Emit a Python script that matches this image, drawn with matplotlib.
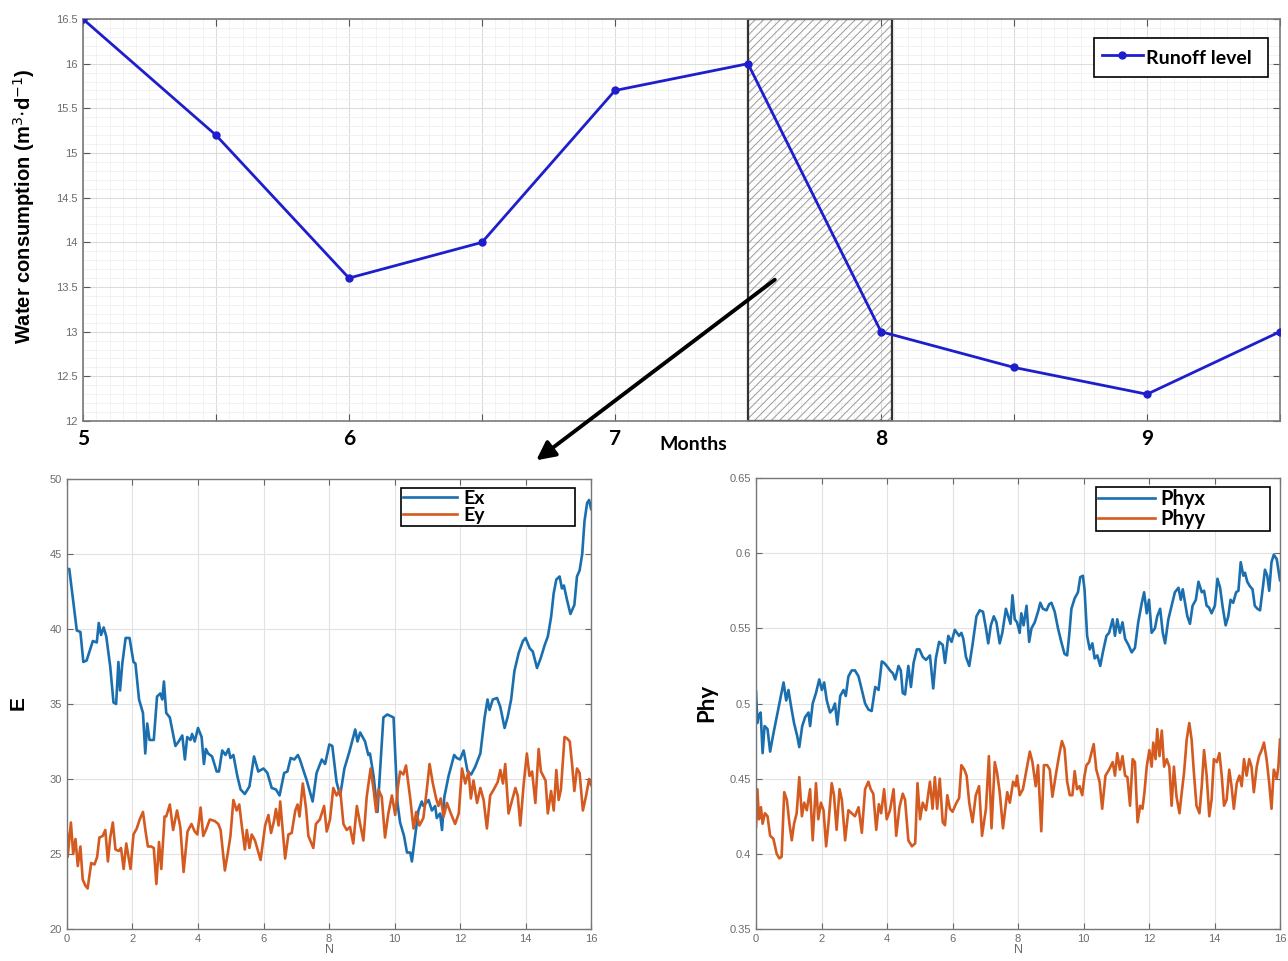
import numpy as np
import matplotlib
matplotlib.use("Agg")
import matplotlib.pyplot as plt
from matplotlib.ticker import MultipleLocator, FuncFormatter

# ---- data ----
months = [5, 5.5, 6, 6.5, 7, 7.5, 8, 8.5, 9, 9.5]
runoff = [16.5, 15.2, 13.6, 14.0, 15.7, 16.0, 13.0, 12.6, 12.3, 13.0]
span_start, span_end = 7.5, 8.04

ex_n = [0.00, 0.07, 0.30, 0.41, 0.50, 0.60, 0.79, 0.91, 0.97, 1.04, 1.12, 1.20, 1.32, 1.42, 1.50, 1.57, 1.62, 1.69,
        1.79, 1.91, 2.03, 2.09, 2.20, 2.32, 2.39, 2.45, 2.52, 2.65, 2.75, 2.85, 2.91, 2.96, 3.03, 3.14, 3.31, 3.41,
        3.52, 3.60, 3.67, 3.77, 3.82, 3.90, 4.00, 4.11, 4.18, 4.24, 4.31, 4.43, 4.57, 4.64, 4.74, 4.84, 4.93, 4.99,
        5.08, 5.20, 5.30, 5.43, 5.57, 5.71, 5.84, 6.00, 6.12, 6.25, 6.38, 6.49, 6.63, 6.73, 6.83, 6.94, 7.05, 7.11,
        7.32, 7.50, 7.62, 7.78, 7.88, 8.01, 8.10, 8.23, 8.34, 8.47, 8.62, 8.80, 8.87, 8.95, 9.10, 9.20, 9.25, 9.36,
        9.48, 9.56, 9.66, 9.78, 9.97, 10.09, 10.17, 10.29, 10.38, 10.48, 10.53, 10.63, 10.73, 10.83, 10.88, 11.04,
        11.14, 11.24, 11.29, 11.39, 11.45, 11.52, 11.65, 11.82, 11.90, 12.00, 12.11, 12.23, 12.34, 12.46, 12.62,
        12.75, 12.84, 12.90, 13.00, 13.13, 13.23, 13.36, 13.45, 13.56, 13.66, 13.79, 13.92, 14.00, 14.13, 14.22,
        14.35, 14.47, 14.58, 14.68, 14.78, 14.86, 14.94, 15.04, 15.11, 15.17, 15.27, 15.37, 15.49, 15.57, 15.65,
        15.73, 15.80, 15.88, 15.94, 16.00]
ex_v = [44.0, 44.0, 39.9, 39.8, 37.8, 37.9, 39.2, 39.1, 40.4, 39.6, 40.1, 39.5, 37.5, 35.1, 35.0, 37.8, 35.9, 37.7,
        39.4, 39.4, 37.8, 37.7, 35.3, 34.4, 31.7, 33.7, 32.6, 32.6, 35.5, 35.7, 35.3, 36.5, 34.4, 34.1, 32.2, 32.5,
        32.9, 31.3, 32.8, 32.6, 33.0, 32.5, 33.4, 32.8, 31.0, 32.0, 31.7, 31.5, 30.5, 30.5, 31.9, 31.6, 32.0, 31.4,
        31.6, 30.2, 29.3, 29.0, 29.5, 31.5, 30.5, 30.7, 30.4, 29.4, 29.3, 28.9, 30.4, 30.5, 31.4, 31.3, 31.6, 31.3,
        29.9, 28.5, 30.4, 31.3, 31.0, 32.3, 32.2, 29.8, 28.9, 30.7, 31.8, 33.3, 32.5, 33.1, 32.5, 31.6, 31.7, 30.2,
        27.8, 30.6, 34.1, 34.3, 34.1, 28.4, 27.1, 26.2, 25.1, 25.1, 24.5, 26.2, 27.9, 28.5, 28.2, 28.6,
        27.9, 28.2, 27.4, 27.7, 26.6, 28.8, 30.2, 31.6, 31.4, 31.3, 31.9, 30.5, 30.3, 30.8, 31.7,
        34.1, 35.3, 34.6, 35.3, 35.4, 34.8, 33.4, 34.1, 35.3, 37.2, 38.4, 39.2, 39.4, 38.7, 38.5,
        37.4, 38.1, 38.9, 39.5, 40.8, 42.4, 43.3, 43.5, 42.7, 42.9, 41.9, 41.0, 41.6, 43.5, 43.9,
        45.0, 47.2, 48.4, 48.6, 48.0]

ey_n = [0.00, 0.02, 0.12, 0.19, 0.26, 0.33, 0.41, 0.48, 0.56, 0.63, 0.74, 0.84, 0.92, 0.99, 1.09, 1.17, 1.25, 1.32,
        1.40, 1.48, 1.58, 1.65, 1.73, 1.81, 1.94, 2.03, 2.13, 2.22, 2.32, 2.40, 2.47, 2.57, 2.65, 2.73, 2.81, 2.88,
        2.98, 3.03, 3.14, 3.24, 3.36, 3.46, 3.56, 3.68, 3.80, 3.90, 3.98, 4.08, 4.16, 4.26, 4.36, 4.51, 4.62, 4.69,
        4.82, 4.92, 4.99, 5.08, 5.18, 5.26, 5.33, 5.43, 5.49, 5.57, 5.64, 5.74, 5.91, 6.05, 6.15, 6.23, 6.32, 6.38,
        6.46, 6.51, 6.66, 6.76, 6.86, 6.97, 7.04, 7.10, 7.20, 7.30, 7.37, 7.52, 7.60, 7.72, 7.85, 7.93, 8.03, 8.13,
        8.23, 8.34, 8.44, 8.54, 8.64, 8.74, 8.85, 8.95, 9.05, 9.15, 9.27, 9.36, 9.44, 9.51, 9.61, 9.71, 9.81, 9.92,
        10.02, 10.10, 10.17, 10.27, 10.35, 10.48, 10.58, 10.66, 10.76, 10.88, 10.97, 11.07, 11.17, 11.27, 11.34,
        11.41, 11.50, 11.60, 11.72, 11.85, 11.96, 12.06, 12.16, 12.26, 12.33, 12.41, 12.52, 12.62, 12.72, 12.82,
        12.92, 13.03, 13.15, 13.23, 13.31, 13.38, 13.48, 13.59, 13.69, 13.76, 13.84, 13.94, 14.04, 14.12, 14.20,
        14.30, 14.40, 14.47, 14.61, 14.68, 14.78, 14.86, 14.94, 15.01, 15.08, 15.19, 15.27, 15.35, 15.42, 15.49,
        15.57, 15.65, 15.75, 15.85, 15.94, 16.00]
ey_v = [26.4, 24.8, 27.1, 25.0, 26.0, 24.2, 25.5, 23.3, 22.9, 22.7, 24.4, 24.3, 24.8, 26.1, 26.2, 26.6, 24.5, 26.1,
        27.1, 25.3, 25.2, 25.4, 24.0, 25.7, 24.0, 26.3, 26.7, 27.3, 27.8, 26.5, 25.5, 25.5, 25.4, 23.0, 25.8, 24.0,
        27.5, 27.5, 28.3, 26.6, 27.9, 26.8, 23.8, 26.5, 27.0, 26.5, 26.3, 28.1, 26.2, 26.7, 27.3, 27.2, 27.0, 26.6,
        23.9, 25.2, 26.2, 28.6, 27.9, 28.3, 27.0, 25.3, 26.6, 25.4, 26.3, 25.9, 24.6, 26.9, 27.6, 26.4, 27.2, 28.0,
        26.9, 28.5, 24.7, 26.3, 26.4, 27.9, 28.3, 27.5, 29.7, 28.0, 26.2, 25.4, 27.0, 27.3, 28.2, 26.5, 27.3, 29.4,
        28.9, 29.3, 27.0, 26.6, 26.8, 25.7, 28.2, 27.0, 25.9, 28.8, 30.7, 29.3, 27.8, 29.3, 28.8, 26.1, 27.7, 28.9,
        27.6, 29.4, 30.5, 30.3, 30.9, 28.7, 26.7, 27.8, 26.9, 27.4, 29.0, 31.0, 29.7, 28.7, 28.2,
        28.7, 27.5, 28.4, 27.7, 27.0, 27.7, 30.7, 29.7, 30.5, 28.7, 29.9, 28.4, 29.4, 28.6, 26.7,
        28.9, 29.3, 29.8, 30.6, 29.7, 31.0, 27.7, 28.6, 29.4, 28.9, 26.9, 29.6, 31.7, 30.2, 30.5,
        28.4, 32.0, 30.5, 29.9, 27.7, 29.2, 27.9, 30.6, 28.6, 29.3, 32.8, 32.7, 32.5, 31.0, 29.2,
        30.7, 30.4, 27.9, 28.9, 30.0, 29.6]

phyx_n = [0.00, 0.04, 0.08, 0.14, 0.20, 0.26, 0.35, 0.43, 0.53, 0.63, 0.73, 0.84, 0.92, 0.99, 1.07, 1.16, 1.26, 1.32,
          1.41, 1.50, 1.60, 1.65, 1.73, 1.83, 1.93, 2.01, 2.08, 2.16, 2.26, 2.34, 2.41, 2.48, 2.57, 2.67, 2.74, 2.82,
          2.92, 3.02, 3.13, 3.23, 3.33, 3.43, 3.53, 3.64, 3.74, 3.84, 3.91, 3.99, 4.09, 4.18, 4.25, 4.35, 4.42, 4.48,
          4.55, 4.65, 4.73, 4.81, 4.91, 4.99, 5.09, 5.19, 5.31, 5.41, 5.49, 5.59, 5.70, 5.77, 5.87, 5.97, 6.07, 6.20,
          6.27, 6.33, 6.41, 6.51, 6.61, 6.73, 6.83, 6.93, 7.02, 7.09, 7.17, 7.26, 7.34, 7.44, 7.52, 7.63, 7.70, 7.77,
          7.83, 7.90, 7.97, 8.05, 8.10, 8.17, 8.26, 8.34, 8.41, 8.51, 8.61, 8.68, 8.76, 8.87, 8.95, 9.02, 9.12, 9.22,
          9.32, 9.42, 9.50, 9.56, 9.63, 9.73, 9.83, 9.90, 9.98, 10.03, 10.11, 10.19, 10.27, 10.34, 10.42, 10.51,
          10.59, 10.70, 10.78, 10.89, 10.96, 11.03, 11.11, 11.19, 11.27, 11.37, 11.47, 11.57, 11.67, 11.78, 11.85,
          11.93, 12.00, 12.08, 12.18, 12.25, 12.34, 12.42, 12.49, 12.59, 12.69, 12.79, 12.90, 12.97, 13.03, 13.10,
          13.17, 13.25, 13.33, 13.43, 13.51, 13.61, 13.68, 13.76, 13.83, 13.91, 14.01, 14.09, 14.17, 14.25, 14.34,
          14.42, 14.49, 14.57, 14.66, 14.73, 14.80, 14.88, 14.93, 15.00, 15.08, 15.16, 15.23, 15.31, 15.39, 15.47,
          15.54, 15.61, 15.67, 15.74, 15.81, 15.90, 15.98, 16.00]
phyx_v = [0.508, 0.487, 0.492, 0.494, 0.467, 0.485, 0.483, 0.468, 0.480, 0.491, 0.502, 0.514, 0.502, 0.509, 0.498,
          0.487, 0.478, 0.471, 0.485, 0.491, 0.494, 0.485, 0.500, 0.507, 0.516, 0.509, 0.514, 0.502, 0.494, 0.496,
          0.500, 0.486, 0.505, 0.509, 0.505, 0.518, 0.522, 0.522, 0.518, 0.509, 0.500, 0.496, 0.495, 0.511, 0.509,
          0.528, 0.527, 0.525, 0.522, 0.520, 0.516, 0.525, 0.522, 0.507, 0.506, 0.525, 0.511, 0.527, 0.536, 0.536,
          0.531, 0.529, 0.532, 0.510, 0.530, 0.541, 0.539, 0.527, 0.545, 0.541, 0.549, 0.545, 0.547, 0.543, 0.531,
          0.525, 0.539, 0.558, 0.562, 0.561, 0.550, 0.540, 0.552, 0.558, 0.554, 0.540, 0.547, 0.563, 0.558, 0.553,
          0.572, 0.556, 0.554, 0.547, 0.560, 0.552, 0.565, 0.541, 0.550, 0.554, 0.561, 0.567, 0.563, 0.562, 0.566,
          0.567, 0.561, 0.550, 0.541, 0.533, 0.532, 0.545, 0.563, 0.570, 0.574, 0.584, 0.585, 0.576, 0.545, 0.536,
          0.540, 0.530, 0.532, 0.525, 0.534, 0.545, 0.547, 0.556, 0.545, 0.556, 0.547, 0.554, 0.543, 0.539, 0.534,
          0.537, 0.554, 0.567, 0.574, 0.560, 0.569, 0.547, 0.550, 0.558, 0.563, 0.547, 0.540, 0.556, 0.565, 0.574,
          0.577, 0.569, 0.576, 0.567, 0.558, 0.553, 0.565, 0.569, 0.581, 0.574, 0.575, 0.565, 0.564, 0.560, 0.565,
          0.583, 0.577, 0.564, 0.552, 0.558, 0.569, 0.567, 0.574, 0.575, 0.594, 0.585, 0.587, 0.581, 0.578, 0.576,
          0.565, 0.563, 0.562, 0.576, 0.589, 0.585, 0.575, 0.594, 0.599, 0.596, 0.585, 0.582]

phyy_n = [0.00, 0.04, 0.09, 0.15, 0.20, 0.27, 0.35, 0.43, 0.53, 0.63, 0.71, 0.78, 0.86, 0.94, 1.02, 1.09, 1.16, 1.24,
          1.32, 1.40, 1.47, 1.55, 1.65, 1.73, 1.83, 1.90, 1.98, 2.06, 2.14, 2.21, 2.31, 2.38, 2.46, 2.55, 2.62, 2.72,
          2.82, 2.92, 3.02, 3.13, 3.23, 3.33, 3.43, 3.50, 3.58, 3.67, 3.75, 3.82, 3.91, 3.99, 4.09, 4.20, 4.28, 4.38,
          4.48, 4.55, 4.65, 4.76, 4.86, 4.93, 5.01, 5.09, 5.19, 5.31, 5.39, 5.46, 5.53, 5.61, 5.70, 5.77, 5.84, 5.92,
          6.00, 6.12, 6.20, 6.27, 6.36, 6.43, 6.51, 6.61, 6.71, 6.81, 6.90, 7.02, 7.11, 7.19, 7.29, 7.36, 7.44, 7.54,
          7.67, 7.75, 7.85, 7.93, 7.97, 8.05, 8.15, 8.26, 8.36, 8.44, 8.54, 8.61, 8.71, 8.79, 8.89, 8.97, 9.05, 9.15,
          9.25, 9.34, 9.42, 9.50, 9.58, 9.66, 9.73, 9.80, 9.88, 9.96, 10.03, 10.09, 10.17, 10.31, 10.39, 10.49, 10.57,
          10.67, 10.78, 10.89, 10.96, 11.03, 11.11, 11.19, 11.27, 11.34, 11.42, 11.50, 11.57, 11.65, 11.73, 11.80,
          11.86, 11.93, 12.01, 12.08, 12.13, 12.20, 12.25, 12.32, 12.39, 12.46, 12.54, 12.62, 12.69, 12.76, 12.84,
          12.93, 13.00, 13.07, 13.15, 13.23, 13.30, 13.37, 13.45, 13.54, 13.61, 13.68, 13.76, 13.84, 13.91, 13.98,
          14.07, 14.15, 14.22, 14.29, 14.37, 14.45, 14.52, 14.59, 14.68, 14.76, 14.83, 14.90, 14.98, 15.06, 15.13,
          15.20, 15.29, 15.36, 15.44, 15.51, 15.59, 15.67, 15.74, 15.81, 15.90, 15.95, 16.00]
phyy_v = [0.418, 0.443, 0.423, 0.431, 0.420, 0.427, 0.425, 0.412, 0.410, 0.400, 0.397, 0.398, 0.441, 0.436, 0.420,
          0.409, 0.420, 0.427, 0.451, 0.425, 0.434, 0.429, 0.443, 0.409, 0.447, 0.423, 0.434, 0.429, 0.405, 0.420,
          0.447, 0.439, 0.416, 0.443, 0.436, 0.409, 0.429, 0.427, 0.425, 0.431, 0.414, 0.443, 0.448, 0.443, 0.440,
          0.416, 0.433, 0.427, 0.443, 0.423, 0.429, 0.443, 0.412, 0.431, 0.440, 0.436, 0.409, 0.405, 0.407, 0.447,
          0.423, 0.434, 0.429, 0.448, 0.430, 0.451, 0.430, 0.450, 0.421, 0.419, 0.439, 0.430, 0.428, 0.434, 0.437,
          0.459, 0.456, 0.452, 0.434, 0.421, 0.439, 0.445, 0.412, 0.430, 0.465, 0.417, 0.461, 0.454, 0.441, 0.417,
          0.441, 0.434, 0.448, 0.445, 0.452, 0.439, 0.443, 0.456, 0.468, 0.461, 0.445, 0.459, 0.415, 0.459, 0.459,
          0.456, 0.438, 0.452, 0.465, 0.475, 0.470, 0.448, 0.439, 0.439, 0.455, 0.443, 0.445, 0.439, 0.452, 0.459,
          0.461, 0.473, 0.456, 0.448, 0.430, 0.452, 0.456, 0.461, 0.452, 0.467, 0.456, 0.465, 0.452, 0.451, 0.432,
          0.463, 0.461, 0.421, 0.432, 0.430, 0.441, 0.458, 0.469, 0.458, 0.474, 0.463, 0.483, 0.465, 0.482, 0.458,
          0.463, 0.458, 0.432, 0.458, 0.438, 0.427, 0.441, 0.454, 0.476, 0.487, 0.476, 0.454, 0.432, 0.427, 0.445,
          0.469, 0.452, 0.425, 0.436, 0.463, 0.461, 0.467, 0.452, 0.432, 0.436, 0.456, 0.445, 0.430, 0.447, 0.452,
          0.445, 0.463, 0.452, 0.463, 0.458, 0.441, 0.458, 0.465, 0.469, 0.474, 0.463, 0.447, 0.430, 0.456, 0.450,
          0.458, 0.476]

BLUE = '#1b6fae'
ORANGE = '#d45a20'
TICK_GRAY = '#6b6b6b'
CAL = ['Lato', 'DejaVu Sans']
ARIAL = ['Liberation Sans', 'DejaVu Sans']

plt.rcParams['font.family'] = ARIAL
plt.rcParams['hatch.linewidth'] = 0.7

fig = plt.figure(figsize=(12.88, 9.61), dpi=100)

# ---- top panel ----
ax = fig.add_axes([0.0644, 0.5619, 0.9294, 0.4183])
ax.plot(months, runoff, color='#1e1ecc', lw=2, marker='o', ms=5, label='Runoff level', zorder=3)
ax.axvspan(span_start, span_end, fill=False, hatch='////', edgecolor='#9a9a9a', lw=0, zorder=2)
ax.axvspan(span_start, span_end, fill=False, edgecolor='#333333', lw=1.6, zorder=2.5)
ax.set_xlim(5, 9.5)
ax.set_ylim(12, 16.5)
ax.xaxis.set_major_locator(MultipleLocator(0.5))
ax.xaxis.set_minor_locator(MultipleLocator(0.05))
ax.yaxis.set_major_locator(MultipleLocator(0.5))
ax.yaxis.set_minor_locator(MultipleLocator(0.1))
ax.xaxis.set_major_formatter(FuncFormatter(lambda v, p: '%d' % v if abs(v - round(v)) < 1e-6 else ''))
ax.yaxis.set_major_formatter(FuncFormatter(lambda v, p: '%g' % v))
ax.grid(which='major', color='#dcdcdc', lw=0.8)
ax.grid(which='minor', color='#f0f0f0', lw=0.6)
ax.set_axisbelow(True)
ax.tick_params(which='both', direction='in', top=True, right=True)
ax.tick_params(which='minor', length=0)
ax.tick_params(which='major', length=5, color='#555555')
ax.tick_params(axis='y', labelsize=8, labelcolor=TICK_GRAY, pad=4)
ax.tick_params(axis='x', labelsize=15, pad=6)
for t in ax.get_xticklabels():
    t.set_fontfamily(CAL)
    t.set_fontweight('bold')
for s in ax.spines.values():
    s.set_color('#7a7a7a')
    s.set_linewidth(1.2)
leg = ax.legend(loc='upper left', bbox_to_anchor=(0.8446, 0.853, 0.1454, 0.1), mode='expand',
                borderaxespad=0, fancybox=False, edgecolor='black', framealpha=1,
                handlelength=2.1, handleheight=1.5, handletextpad=0.2, borderpad=0.4, numpoints=1,
                prop={'family': CAL, 'weight': 'bold', 'size': 14})
leg.get_frame().set_linewidth(1.2)
fig.text(24 / 1288, 1 - 206 / 961, 'Water consumption (m$^{3}$$\\cdot$d$^{-1}$)', rotation=90,
         ha='center', va='center', fontsize=14.5, fontweight='bold', family=ARIAL)
fig.text(693 / 1288, 1 - 444 / 961, 'Months', ha='center', va='center', fontsize=14,
         fontweight='bold', family=CAL)

# arrow from hatched region down to the E panel
fig.patches.append(matplotlib.patches.FancyArrowPatch(
    (777 / 1288, 1 - 278 / 961), (534 / 1288, 1 - 462 / 961), transform=fig.transFigure,
    arrowstyle='-|>', mutation_scale=28, lw=2.8, color='black'))


def style_bottom(a, ylo, yhi, ystep):
    a.set_xlim(0, 16)
    a.set_ylim(ylo, yhi)
    a.xaxis.set_major_locator(MultipleLocator(2))
    a.yaxis.set_major_locator(MultipleLocator(ystep))
    a.yaxis.set_major_formatter(FuncFormatter(lambda v, p: '%g' % round(v, 3)))
    a.grid(color='#e2e2e2', lw=0.8)
    a.set_axisbelow(True)
    a.tick_params(direction='in', top=True, right=True, length=4, color='#666666',
                  labelsize=8, labelcolor=TICK_GRAY)
    for s in a.spines.values():
        s.set_color('#777777')
        s.set_linewidth(1.0)
    a.set_xlabel('N', fontsize=9, color=TICK_GRAY, labelpad=0)


# ---- bottom left ----
axe = fig.add_axes([0.0520, 0.0333, 0.4069, 0.4683])
axe.plot(ex_n, ex_v, color=BLUE, lw=1.9, label='Ex')
axe.plot(ey_n, ey_v, color=ORANGE, lw=1.9, label='Ey')
style_bottom(axe, 20, 50, 5)
lg = axe.legend(loc='upper left', bbox_to_anchor=(0.637, 0.88, 0.332, 0.1), mode='expand',
                borderaxespad=0, fancybox=False, edgecolor='black', framealpha=1,
                handlelength=2.8, handletextpad=0.3, borderpad=0.1, labelspacing=0.0,
                prop={'family': CAL, 'weight': 'bold', 'size': 14})
lg.get_frame().set_linewidth(1.2)
fig.text(18 / 1288, 1 - 703 / 961, 'E', rotation=90, ha='center', va='center',
         fontsize=15, fontweight='bold', family=ARIAL)

# ---- bottom right ----
axp = fig.add_axes([0.5870, 0.0333, 0.4068, 0.4693])
axp.plot(phyx_n, phyx_v, color=BLUE, lw=1.9, label='Phyx')
axp.plot(phyy_n, phyy_v, color=ORANGE, lw=1.9, label='Phyy')
style_bottom(axp, 0.35, 0.65, 0.05)
lg2 = axp.legend(loc='upper left', bbox_to_anchor=(0.649, 0.88, 0.332, 0.1), mode='expand',
                 borderaxespad=0, fancybox=False, edgecolor='black', framealpha=1,
                 handlelength=2.8, handletextpad=0.3, borderpad=0.1, labelspacing=0.0,
                 prop={'family': CAL, 'weight': 'bold', 'size': 14.5})
lg2.get_frame().set_linewidth(1.2)
fig.text(707 / 1288, 1 - 703 / 961, 'Phy', rotation=90, ha='center', va='center',
         fontsize=16, fontweight='bold', family=CAL)

fig.savefig('out.png', dpi=100)
